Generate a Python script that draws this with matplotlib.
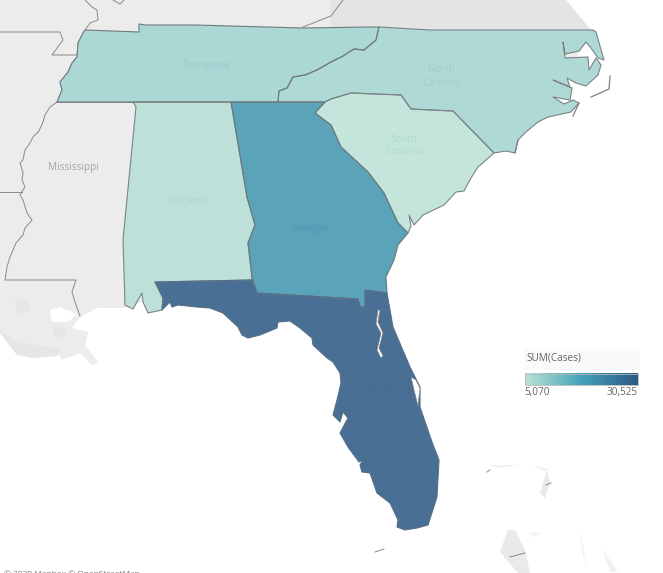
import matplotlib
matplotlib.use("Agg")
import matplotlib.pyplot as plt
from matplotlib.colors import LinearSegmentedColormap, Normalize
from matplotlib.patches import Polygon, Rectangle
import numpy as np

plt.rcParams['font.family'] = ['Open Sans', 'DejaVu Sans']

# Values estimated from the colours of the picture
states = ['South Carolina', 'Alabama', 'North Carolina', 'Tennessee', 'Georgia', 'Florida']
cases = [5070, 5800, 7800, 8100, 19800, 30525]
legend_ticks = ['5,070', '30,525']
palette = ['#bce4d8', '#45a2b9', '#2c5985']

# Outlines (image pixel units)
tn_west = [(57,102),(62,90),(60,82),(68,72),(72,63),(77,57),(78,43),(83,33),(85,30)]
tennessee = tn_west + [(139,32),(139,24),(146,25),(195,25),(303,28),(369,27),(379,27),
             (376,40),(364,50),(354,49),(343,56),(331,62),(317,70),(305,75),(293,77),(287,88),(279,91),(278,102)]
north_carolina = [(379,27),(430,30),(593,30),(596,32),(604,60),(598,58),(591,48),(586,42),(579,51),(565,54),
                  (563,42),(565,58),(588,57),(589,70),(596,58),(601,65),(598,75),(586,86),(576,83),(567,78),
                  (570,87),(553,80),(572,88),(570,100),(553,97),(564,104),(573,100),(579,103),(571,112),(548,117),
                  (538,122),(526,132),(518,140),(515,153),(506,151),(494,153),(453,111),(411,109),(401,95),(351,93),
                  (331,99),(325,102),(278,102),(279,91),(287,88),(293,77),(305,75),(317,70),(331,62),(343,56),
                  (354,49),(364,50),(376,40)]
south_carolina = [(325,102),(331,99),(351,93),(401,95),(411,109),(453,111),(494,153),(478,167),(471,178),(464,191),
                  (456,192),(444,205),(423,215),(414,225),(409,215),(411,226),(408,233),(398,223),(384,193),
                  (368,172),(341,147),(331,125),(315,113)]
georgia = [(231,102),(325,102),(315,113),(331,125),(341,147),(368,172),(384,193),(398,223),(408,233),(398,245),
           (394,260),(386,277),(387,293),(365,290),(365,307),(360,307),(358,299),(257,293),(252,277),(248,243),
           (255,225),(247,197)]
alabama = [(133,102),(231,102),(247,197),(255,225),(248,243),(252,277),(252,280),(155,282),(163,298),(162,310),
           (148,313),(143,302),(142,293),(138,300),(133,309),(125,305),(123,240),(136,107)]
florida = [(155,282),(252,280),(257,293),(358,299),(360,307),(365,307),(365,290),(387,293),(393,327),(410,367),
           (420,387),(420,407),(432,442),(439,460),(437,497),(428,525),(417,528),(405,530),(397,527),(398,520),
           (390,503),(377,493),(370,473),(362,472),(360,465),(363,460),(359,462),(348,447),(340,433),(348,418),
           (343,412),(340,422),(333,415),(337,400),(341,383),(340,373),(333,362),(327,358),(313,345),(312,338),
           (300,328),(290,321),(278,322),(277,328),(260,335),(248,338),(242,335),(238,327),(223,313),(210,308),
           (197,307),(178,305),(172,307),(170,302),(162,310),(163,298)]
outlines = [south_carolina, alabama, north_carolina, tennessee, georgia, florida]
edge_colors = ['#7b8386', '#7b8386', '#7b8386', '#6f7a7e', '#6b7a80', '#56708a']

land = [(0,0),(566,0),(575,12),(591,30),(570,70),(500,130),(400,200),(370,280),(170,295),(130,305),
        (125,308),(97,308),(80,317),(72,328),(88,332),(85,345),(98,362),(92,365),(80,353),(62,360),(57,352),
        (33,358),(17,355),(0,333)]
lake = [(50,310),(60,307),(77,314),(68,322),(52,322)]
tone_patches = [[(15,300),(27,299),(30,310),(18,314)],[(55,325),(68,330),(62,340),(52,335)],
                [(0,330),(15,340),(35,345),(60,350),(57,356),(33,358),(17,355),(0,333)]]
bahamas = [[(508,530),(515,530),(525,550),(530,573),(518,573),(500,552)],
           [(547,470),(550,482),(545,498),(540,493)]]
faint_islands = [[(532,465),(549,469),(547,472)],[(487,465),(520,465),(500,468)],
                 [(530,533),(542,532),(535,537)],[(580,530),(587,570),(582,552)],[(602,548),(618,572),(610,572)]]

borders = [[(85,0),(92,7),(97,10),(98,20),(90,23),(85,30),(83,33),(78,43),(77,57),(72,63),(68,72),(60,82),
            (62,90),(57,102),(50,107),(45,115),(43,122),(39,131),(33,137),(30,143),(25,150),(23,160),(20,163),
            (23,173),(22,180),(25,187),(20,195),(23,200),(27,213),(32,220),(25,228),(23,235),(16,243),(10,257),
            (7,267),(5,280),(76,280),(72,292),(75,302),(80,316)],
           [(0,32),(60,32),(63,40),(52,55),(77,55)],[(0,192),(22,192)],[(303,27),(331,16),(343,0)],
           [(113,0),(120,4),(124,0)],[(57,102),(133,102)],
           [(487,472),(490,470)],[(546,485),(551,483)],[(510,557),(525,553)],[(375,552),(384,549)]]
coast_lines = [[(610,76),(609,89),(591,97)],[(579,103),(573,116)],[(518,140),(515,153)]]
lagoons = [[(378,310),(376,324),(381,333),(377,350),(381,358),(383,356),(379,348),(383,333),(378,322),(380,310)],
           [(411,377),(414,390),(418,406),(420,388),(416,380)]]

value_labels = [('Tennessee',206,65.5),('North\nCarolina',441,76.5),('South\nCarolina',404,145.5),('Alabama',187,201.5),
                ('Georgia',310,228.5),('Florida',382,390)]

cmap = LinearSegmentedColormap.from_list('blue_teal', palette)
norm = Normalize(min(cases), max(cases))

fig = plt.figure(figsize=(6.63, 5.73), dpi=100)
ax = fig.add_axes([0, 0, 1, 1])
ax.set_xlim(0, 663); ax.set_ylim(573, 0); ax.axis('off')

ax.add_patch(Polygon(land, fc='#ececec', ec='none', zorder=1))
ax.add_patch(Polygon([(330,0),(566,0),(591,30),(330,30)], fc='#e4e4e4', ec='none', zorder=1.1))
for p in tone_patches:
    ax.add_patch(Polygon(p, fc='#e6e6e6', ec='none', zorder=1.1))
ax.add_patch(Polygon(lake, fc='white', ec='none', zorder=1.2))
for b in bahamas:
    ax.add_patch(Polygon(b, fc='#e9e9e9', ec='none', zorder=1))
for b in faint_islands:
    ax.add_patch(Polygon(b, fc='#f2f2f2', ec='none', zorder=1))
for line in borders:
    xs, ys = zip(*line)
    ax.plot(xs, ys, color='#8a8a8a', lw=0.7, zorder=2)
ax.text(73, 167.5, 'Mississippi', fontsize=7.2, color='#a5a5a5', ha='center', va='center', zorder=2)

for pts, v in zip(outlines, cases):
    ax.add_patch(Polygon(pts, fc='#ececec', ec='none', zorder=2.9))
    ax.add_patch(Polygon(pts, fc=cmap(norm(v)), alpha=0.85, ec='none', zorder=3))
for pts, ec in zip(outlines, edge_colors):
    ax.add_patch(Polygon(pts, fc='none', ec=ec, lw=0.8, joinstyle='round', zorder=4))
for line in coast_lines:
    xs, ys = zip(*line)
    ax.plot(xs, ys, color='#7b8083', lw=0.9, zorder=4)
for lag in lagoons:
    ax.add_patch(Polygon(lag, fc='white', ec='#7b8083', lw=0.5, zorder=5))

for (txt, x, y), c in zip(value_labels, ['#9ec9c9','#a2cccc','#b2d8cf','#acd5cc','#4f97b3','#466c92']):
    ax.text(x, y, txt, fontsize=7, color=c, ha='center', va='center', linespacing=1.25, zorder=6)

# Legend
ax.add_patch(Rectangle((524,349), 116, 21, fc='#f9f9f9', ec='none', zorder=6))
ax.text(526, 358.5, 'SUM(Cases)', fontsize=7.2, color='#666666', va='center', zorder=7)
grad = np.linspace(min(cases), max(cases), 256).reshape(1, -1)
ax.imshow(grad, cmap=cmap, norm=norm, extent=(524.5, 637.5, 385, 373.5), aspect='auto', zorder=7)
ax.set_xlim(0, 663); ax.set_ylim(573, 0)
ax.add_patch(Rectangle((524.5,373.5), 113, 11.5, fc='none', ec='#b5b5b5', lw=0.6, zorder=8))
ax.text(524.5, 393, legend_ticks[0], fontsize=7.2, color='#666666', va='center', ha='left', zorder=7)
ax.text(637.5, 393, legend_ticks[1], fontsize=7.2, color='#666666', va='center', ha='right', zorder=7)

# The reference itself shows this credit cut off by the bottom edge
ax.text(4, 574, '© 2020 Mapbox © OpenStreetMap', fontsize=6.0, color='#777777', va='center', ha='left', zorder=7)

fig.savefig('out.png', dpi=100)
